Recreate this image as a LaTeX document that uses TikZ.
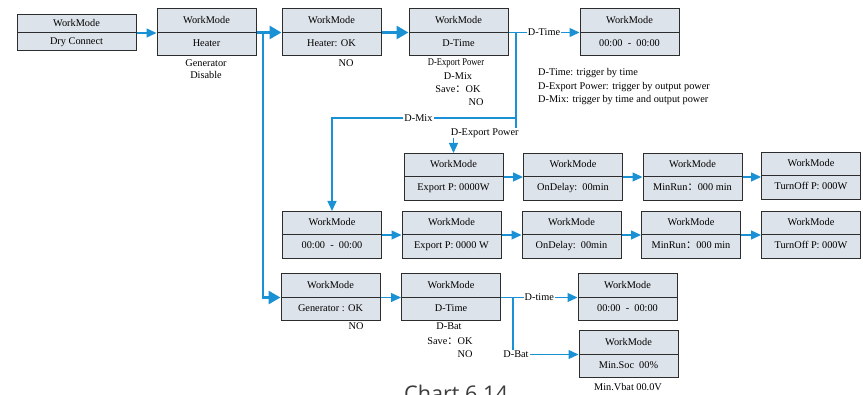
\documentclass[tikz,border=0pt]{standalone}
\usepackage{fontspec}
\setmainfont{Liberation Serif}
\newfontfamily\cjkpunct{Noto Sans CJK SC}
\newfontfamily\condfont[FakeStretch=0.83]{Liberation Serif}
\newfontfamily\captionfont{Open Sans}
\usetikzlibrary{arrows.meta}
\definecolor{flowblue}{RGB}{27,145,213}
\definecolor{boxfill}{RGB}{221,227,234}
\definecolor{boxline}{RGB}{45,45,45}
\definecolor{captiongray}{RGB}{60,60,60}
\newcommand{\fwcolon}{{\cjkpunct ：}}
\tikzset{
  wmtop/.initial=13pt,
  wmbox/.style={draw=boxline, fill=boxfill, line width=1pt, minimum width=99pt,
    minimum height=47pt, inner sep=0pt, align=center, font=\fontsize{10.3}{23}\selectfont,
    execute at begin node={\rule{0pt}{\pgfkeysvalueof{/tikz/wmtop}}},
    execute at end node={\rule[-2.2pt]{0pt}{2.2pt}},
    path picture={\draw[boxline, line width=1pt] (path picture bounding box.west) -- (path picture bounding box.east);}},
  flow/.style={flowblue, line width=1.3pt, -{Triangle[length=10pt,width=9pt]}},
  mainflow/.style={flowblue, line width=2.8pt, -{Triangle[length=12pt,width=13pt]}},
  lbl/.style={fill=white, text=black, inner sep=1pt, font=\fontsize{10.3}{12}\selectfont},
  note/.style={inner sep=0pt, text height=7pt, text depth=2pt, font=\fontsize{10.3}{13}\selectfont},
}
\begin{document}
\begin{tikzpicture}[x=1pt, y=-1pt]
  \useasboundingbox (0,0) rectangle (863,395);
  % top row
  \node[wmbox, wmtop=10.6pt, minimum width=119pt, minimum height=36pt, font=\fontsize{10.3}{18}\selectfont] (dryconn) at (76.5,33) {WorkMode\\Dry Connect};
  \node[wmbox] (heater) at (206.5,32.5) {WorkMode\\Heater};
  \node[wmbox] (heatok) at (331.5,32.5) {WorkMode\\Heater: OK};
  \node[wmbox] (dtime) at (458.5,32.5) {WorkMode\\D-Time};
  \node[wmbox] (tslot) at (629.5,32.5) {WorkMode\\00:00~~-~~00:00};
  % export power row
  \node[wmbox] (exportA) at (453.5,177) {WorkMode\\Export P: 0000W};
  \node[wmbox] (ondelayA) at (573,177) {WorkMode\\OnDelay:~~00min};
  \node[wmbox] (minrunA) at (692.5,177) {WorkMode\\MinRun\fwcolon 000 min};
  \node[wmbox] (turnoffA) at (811,176) {WorkMode\\TurnOff P: 000W};
  % mix row
  \node[wmbox] (tslotB) at (332,235) {WorkMode\\00:00~~-~~00:00};
  \node[wmbox] (exportB) at (451.5,235) {WorkMode\\Export P: 0000 W};
  \node[wmbox] (ondelayB) at (571.5,235) {WorkMode\\OnDelay:~~00min};
  \node[wmbox] (minrunB) at (691,235) {WorkMode\\MinRun\fwcolon 000 min};
  \node[wmbox] (turnoffB) at (811,235) {WorkMode\\TurnOff P: 000W};
  % generator rows
  \node[wmbox] (genok) at (330.5,297.5) {WorkMode\\Generator : OK};
  \node[wmbox] (dtimeB) at (451,297.5) {WorkMode\\D-Time};
  \node[wmbox] (tslotC) at (627.5,297.5) {WorkMode\\00:00~~-~~00:00};
  \node[wmbox] (minsoc) at (628.5,354.5) {WorkMode\\Min.Soc~~00\%};

  % notes under the boxes
  \node[note] (heatgen) at (206,64) {Generator};
  \node[note] (heatdis) at (206,76) {Disable};
  \node[note] (heatokno) at (346,64) {NO};
  \node[note, font=\condfont\fontsize{10.3}{13}\selectfont] (dtexport) at (456,63) {D-Export Power};
  \node[note] (dtmix) at (458,77) {D-Mix};
  \node[note] (dtsave) at (458,90) {Save\fwcolon OK};
  \node[note] (dtno) at (476,103) {NO};
  \node[note] (genno) at (356,327) {NO};
  \node[note] (dbnote) at (449,327) {D-Bat};
  \node[note] (dbsave) at (450,342) {Save\fwcolon OK};
  \node[note] (dbno) at (465,355) {NO};
  \node[note] (vbat) at (628,388) {Min.Vbat 00.0V};
  \node[note, anchor=west] (legtime) at (538,73) {D-Time: trigger by time};
  \node[note, anchor=west] (legexp) at (538,87) {D-Export Power: trigger by output power};
  \node[note, anchor=west] (legmix) at (538,100) {D-Mix: trigger by time and output power};
  \node[font=\captionfont\fontsize{21.6}{24}\selectfont, text=captiongray, anchor=base, inner sep=0pt] (chartcap) at (456,402) {Chart 6.14};

  % connectors
  \coordinate (trunk) at (263,32.5);
  \coordinate (dsplit) at (516,32.5);
  \coordinate (mixsplit) at (516,118);
  \coordinate (mixcorner) at (332,118);
  \coordinate (expcorner) at (516,133);
  \coordinate (batsplit) at (513,297.5);
  \draw[flow] (dryconn.east) -- (dryconn.east -| heater.west);
  \draw[mainflow] (heater.east) -- (heatok.west);
  \draw[mainflow] (heatok.east) -- (dtime.west);
  \draw[mainflow] (trunk) |- (genok.west);
  \draw[flow] (dtime.east) -- node[lbl]{D-Time} (tslot.west);
  \draw[flow] (dsplit) -- (mixsplit) -- node[lbl, pos=0.53]{D-Mix} (mixcorner) -- (tslotB.north);
  \draw[flow] (mixsplit) -- (expcorner) -| node[lbl, pos=0.25]{D-Export Power} (exportA.north);
  \draw[flow] (exportA.east) -- (ondelayA.west);
  \draw[flow] (ondelayA.east) -- (minrunA.west);
  \draw[flow] (minrunA.east) -- (minrunA.east -| turnoffA.west);
  \draw[flow] (tslotB.east) -- (exportB.west);
  \draw[flow] (exportB.east) -- (ondelayB.west);
  \draw[flow] (ondelayB.east) -- (minrunB.west);
  \draw[flow] (minrunB.east) -- (turnoffB.west);
  \draw[flow] (genok.east) -- (dtimeB.west);
  \draw[flow] (dtimeB.east) -- node[lbl]{D-time} (tslotC.west);
  \draw[flow] (batsplit) |- node[lbl, xshift=3pt]{D-Bat} (minsoc.west);
\end{tikzpicture}
\end{document}
